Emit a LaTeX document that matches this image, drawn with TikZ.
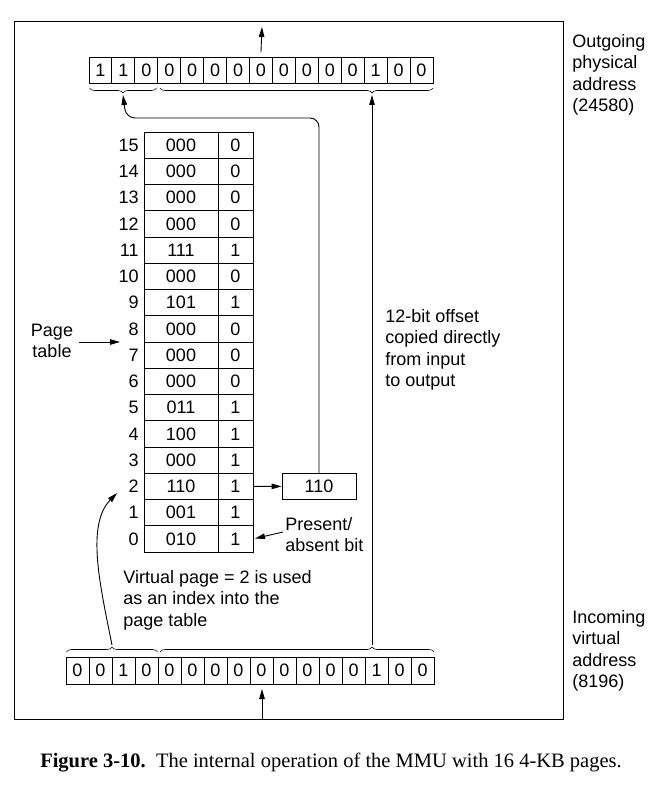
\documentclass[tikz,border=0pt]{standalone}
\usepackage{fontspec}
\setmainfont{Liberation Sans}
\newfontfamily\capfont{Liberation Serif}
\usetikzlibrary{arrows.meta,decorations.pathreplacing}
\begin{document}
\begin{tikzpicture}[x=1pt,y=-1pt,
  line width=0.9pt,
  every node/.style={font=\fontsize{18}{21.3}\selectfont},
  cellt/.style={draw,minimum width=22.93pt,minimum height=26pt,inner sep=0pt},
  cellb/.style={draw,minimum width=23pt,minimum height=27pt,inner sep=0pt},
  pfcell/.style={draw,minimum width=74pt,minimum height=26.25pt,inner sep=0pt},
  pbcell/.style={draw,minimum width=35pt,minimum height=26.25pt,inner sep=0pt},
  lbl/.style={align=left,inner sep=0pt,anchor=north west},
  arr/.style={-{Triangle[length=10pt,width=5.5pt]}},
  brc/.style={decorate,line width=0.6pt}
]
\useasboundingbox (0,0) rectangle (661,791);
\node[draw,line width=0.9pt,minimum width=549pt,minimum height=698pt,inner sep=0pt] (frame) at (288.5,370) {};
% top register
\foreach \b [count=\i from 0] in {1,1,0,0,0,0,0,0,0,0,0,0,1,0,0}{
  \node[cellt] (t\i) at ({89+22.93*(\i+0.5)},70) {\b};
}
% bottom register
\foreach \b [count=\i from 0] in {0,0,1,0,0,0,0,0,0,0,0,0,0,1,0,0}{
  \node[cellb] (b\i) at ({66+23*(\i+0.5)},670.5) {\b};
}
% arrows in/out
\coordinate (topout) at (262,27);
\draw[arr] (t7.north |- 0,52) -- (topout);
\draw[arr] (262,719) -- (262,689);
% braces
\draw[brc,decoration={brace,mirror,amplitude=5pt}] (89.5,88) -- (156.5,88);
\draw[brc,decoration={brace,mirror,amplitude=5pt,aspect=0.777}] (160,88) -- (433,88);
\draw[brc,decoration={brace,amplitude=5pt}] (66.5,652) -- (157.5,652);
\draw[brc,decoration={brace,amplitude=5pt,aspect=0.774}] (160,652) -- (434,652);
\coordinate (ttip1) at (123,95);
\coordinate (ttip2) at (372,95);
\coordinate (btip1) at (112,645);
\coordinate (btip2) at (372,645);
% page table
\foreach \r/\f/\p in {15/000/0,14/000/0,13/000/0,12/000/0,11/111/1,10/000/0,9/101/1,8/000/0,7/000/0,6/000/0,5/011/1,4/100/1,3/000/1,2/110/1,1/001/1,0/010/1}{
  \pgfmathsetmacro{\yc}{132+(15-\r+0.5)*26.25}
  \node[pfcell] (f\r) at (181,\yc) {\f};
  \node[pbcell] (p\r) at (235.5,\yc) {\p};
  \node[anchor=east,inner sep=0pt] (n\r) at (139,\yc) {\r};
}
% frame result box
\node[draw,minimum width=74pt,minimum height=26pt,inner sep=0pt] (res) at (319,486.4) {110};
\draw[arr] (p2.east) -- (res.west);
\draw[arr,rounded corners=9pt] (res.north) -- (319,118) -- (126,118) -- (ttip1);
% offset arrow
\draw[arr] (btip2) -- (ttip2);
% curved arrow
\draw[arr] (btip1) .. controls (100,585) and (86,525) .. (117,493);
% labels
\node[align=center,inner sep=0pt] (pt) at (52,341) {Page\\table};
\draw[arr] (79,342) -- (120,342);
\node[lbl] (pa) at (285,517) {Present/\\absent bit};
\draw[arr] (283,532) -- (255,538.5);
\node[lbl] (vp) at (123,570) {Virtual page = 2 is used\\as an index into the\\page table};
\node[lbl] (off) at (385,309) {12-bit offset\\copied directly\\from input\\to output};
\node[lbl] (out) at (572,34) {Outgoing\\physical\\address\\(24580)};
\node[lbl] (in) at (572,610) {Incoming\\virtual\\address\\(8196)};
\node[inner sep=0pt,font=\capfont\fontsize{20.5}{24}\selectfont] (cap) at (331,763) {\textbf{Figure 3-10.}\ \ The internal operation of the MMU with 16 4-KB pages.};
\end{tikzpicture}
\end{document}
